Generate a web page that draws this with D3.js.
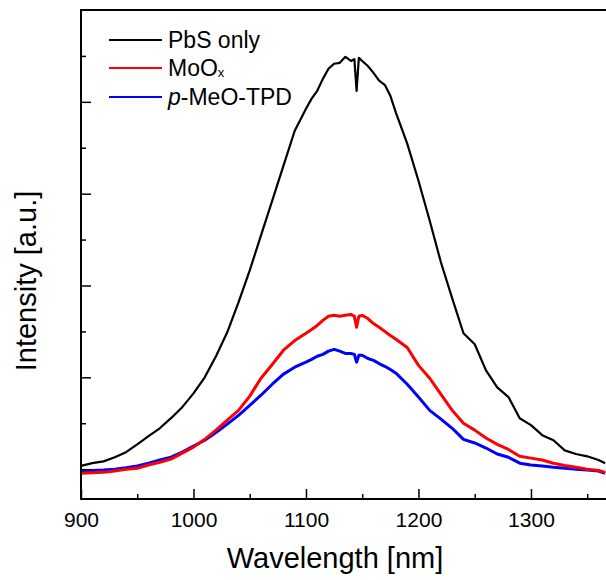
<!DOCTYPE html>
<html>
<head>
<meta charset="utf-8">
<script src="https://cdn.jsdelivr.net/npm/d3@7"></script>
<style>
  html, body { margin: 0; padding: 0; background: #fff; }
  svg { display: block; font-family: "Liberation Sans", Arial, sans-serif; }
</style>
</head>
<body>
<svg id="chart" width="606" height="580"></svg>
<script>
// Photoluminescence spectra (normalised intensity, a.u.)
const wavelength = [900, 910, 920, 930, 940, 950, 960, 970, 980, 990,
  1000, 1010, 1020, 1030, 1040, 1050, 1060, 1070, 1080, 1090,
  1100, 1105, 1110, 1115, 1120, 1125, 1130, 1135, 1140, 1143, 1145, 1147,
  1150, 1155, 1160, 1165, 1170, 1175, 1180, 1190,
  1200, 1210, 1220, 1230, 1240, 1250, 1260, 1270, 1280, 1290,
  1300, 1310, 1320, 1330, 1340, 1350, 1360, 1366];

const pbsOnly = [0.007, 0.013, 0.017, 0.026, 0.037, 0.054, 0.072, 0.089, 0.111, 0.135,
  0.165, 0.200, 0.246, 0.298, 0.363, 0.433, 0.509, 0.585, 0.661, 0.737,
  0.785, 0.807, 0.824, 0.850, 0.872, 0.883, 0.885, 0.898, 0.889, 0.893, 0.824, 0.896,
  0.889, 0.878, 0.863, 0.846, 0.837, 0.813, 0.776, 0.709,
  0.628, 0.541, 0.450, 0.372, 0.296, 0.272, 0.215, 0.178, 0.157, 0.111,
  0.096, 0.074, 0.063, 0.041, 0.033, 0.028, 0.020, 0.013];

const moOx = [-0.009, -0.008, -0.007, -0.004, 0.000, 0.002, 0.009, 0.015, 0.022, 0.035,
  0.048, 0.065, 0.085, 0.107, 0.128, 0.159, 0.198, 0.228, 0.259, 0.280,
  0.296, 0.304, 0.313, 0.324, 0.333, 0.335, 0.333, 0.335, 0.337, 0.333, 0.309, 0.333,
  0.335, 0.328, 0.317, 0.309, 0.300, 0.291, 0.283, 0.265,
  0.226, 0.198, 0.163, 0.128, 0.100, 0.085, 0.068, 0.054, 0.043, 0.028,
  0.024, 0.020, 0.013, 0.008, 0.004, 0.000, -0.003, -0.007];

const meoTpd = [-0.004, -0.003, -0.002, 0.000, 0.003, 0.007, 0.013, 0.020, 0.026, 0.037,
  0.050, 0.063, 0.080, 0.098, 0.117, 0.139, 0.161, 0.185, 0.207, 0.222,
  0.233, 0.239, 0.246, 0.250, 0.257, 0.261, 0.257, 0.252, 0.252, 0.250, 0.233, 0.248,
  0.248, 0.241, 0.237, 0.230, 0.224, 0.217, 0.209, 0.185,
  0.157, 0.128, 0.109, 0.089, 0.065, 0.057, 0.046, 0.033, 0.026, 0.013,
  0.009, 0.007, 0.004, 0.002, 0.000, -0.002, -0.004, -0.009];

const seriesNames = ["PbS only", "MoOx", "p-MeO-TPD"];
const seriesColors = ["#000000", "#ff0000", "#0000ff"];

const xMajorTicks = [900, 1000, 1100, 1200, 1300];
const xMinorTicks = [950, 1050, 1150, 1250, 1350];
const yMajorTicks = [0, 0.2, 0.4, 0.6, 0.8];
const yMinorTicks = [0.1, 0.3, 0.5, 0.7, 0.9];

const svg = d3.select("#chart");
const plot = { left: 81, right: 606, top: 10, bottom: 499 };

const x = d3.scaleLinear().domain([900, 1366.7]).range([plot.left, plot.right]);
const y = d3.scaleLinear().domain([-0.065, 1.0]).range([plot.bottom, plot.top]);

svg.append("defs").append("clipPath").attr("id", "plot-clip")
  .append("rect")
  .attr("x", plot.left).attr("y", plot.top)
  .attr("width", plot.right - plot.left).attr("height", plot.bottom - plot.top);

// Spectra
const line = d3.line().x(d => x(d[0])).y(d => y(d[1]));
const series = [
  { name: seriesNames[0], color: seriesColors[0], values: pbsOnly, width: 2.2 },
  { name: seriesNames[2], color: seriesColors[2], values: meoTpd, width: 3 },
  { name: seriesNames[1], color: seriesColors[1], values: moOx, width: 3 }
];
const curves = svg.append("g").attr("clip-path", "url(#plot-clip)");
series.forEach(s => {
  curves.append("path")
    .datum(wavelength.map((w, i) => [w, s.values[i]]))
    .attr("fill", "none")
    .attr("stroke", s.color)
    .attr("stroke-width", s.width)
    .attr("stroke-linejoin", "round")
    .attr("d", line);
});

// Axes (ticks point into the plot)
const axisStyle = g => {
  g.selectAll(".domain").remove();
  g.selectAll("line").attr("stroke", "#000").attr("stroke-width", 1.5);
  g.selectAll("text").attr("fill", "#000");
};

svg.append("g").attr("transform", `translate(0,${plot.bottom})`)
  .call(d3.axisBottom(x).tickValues(xMajorTicks).tickSize(-10).tickPadding(13).tickFormat(d3.format("d")))
  .call(axisStyle)
  .call(g => g.selectAll("text").attr("font-size", 21).attr("font-family", "Liberation Sans, Arial, sans-serif"));

svg.append("g").attr("transform", `translate(0,${plot.bottom})`)
  .call(d3.axisBottom(x).tickValues(xMinorTicks).tickSize(-5).tickFormat(""))
  .call(axisStyle);

svg.append("g").attr("transform", `translate(${plot.left},0)`)
  .call(d3.axisLeft(y).tickValues(yMajorTicks).tickSize(-10).tickFormat(""))
  .call(axisStyle);

svg.append("g").attr("transform", `translate(${plot.left},0)`)
  .call(d3.axisLeft(y).tickValues(yMinorTicks).tickSize(-5).tickFormat(""))
  .call(axisStyle);

// Frame: left, bottom and top edges
svg.append("path")
  .attr("d", `M${plot.right},${plot.top}H${plot.left}V${plot.bottom}H${plot.right}`)
  .attr("fill", "none").attr("stroke", "#000").attr("stroke-width", 2);

// Axis titles
svg.append("text")
  .attr("x", 335).attr("y", 568)
  .attr("text-anchor", "middle")
  .attr("font-size", 29)
  .text("Wavelength [nm]");

svg.append("text")
  .attr("transform", `translate(36,281) rotate(-90)`)
  .attr("text-anchor", "middle")
  .attr("font-size", 29)
  .text("Intensity [a.u.]");

// Legend
const legend = svg.append("g").attr("font-size", 23);
const legendRows = [
  { color: seriesColors[0], y: 40 },
  { color: seriesColors[1], y: 68 },
  { color: seriesColors[2], y: 97 }
];
legendRows.forEach(r => {
  legend.append("line")
    .attr("x1", 109).attr("x2", 162).attr("y1", r.y).attr("y2", r.y)
    .attr("stroke", r.color).attr("stroke-width", 2);
});
legend.append("text").attr("x", 168).attr("y", 48).text(seriesNames[0]);
const moText = legend.append("text").attr("x", 168).attr("y", 76);
moText.append("tspan").text("MoO");
moText.append("tspan").attr("font-size", 13).attr("dy", 1).text("x");
const tpdText = legend.append("text").attr("x", 168).attr("y", 105);
tpdText.append("tspan").attr("font-style", "italic").text("p");
tpdText.append("tspan").text("-MeO-TPD");
</script>
</body>
</html>
